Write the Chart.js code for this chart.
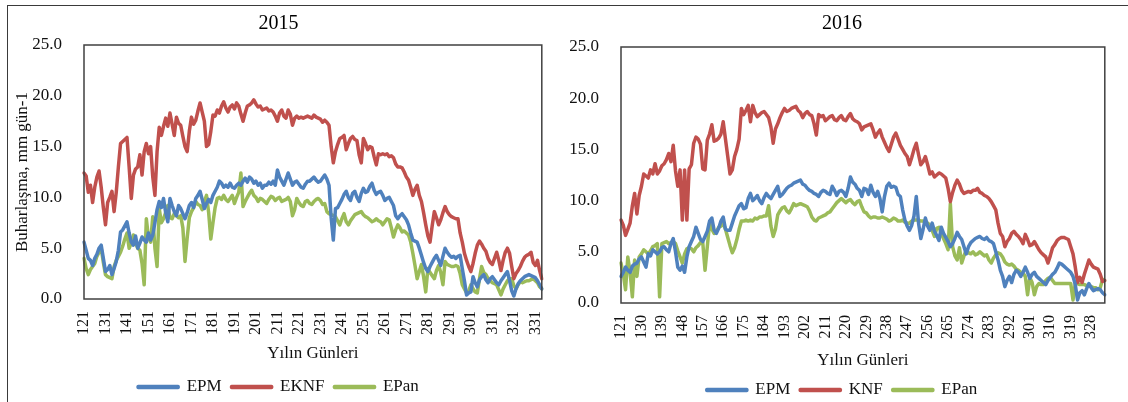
<!DOCTYPE html>
<html>
<head>
<meta charset="utf-8">
<script src="https://cdn.jsdelivr.net/npm/chart.js@4/dist/chart.umd.min.js"></script>
<style>
  body { margin: 0; width: 1128px; height: 402px; overflow: hidden; background: #fff; position: relative; }
  .frame { position: absolute; left: 7px; top: 5px; width: 1130px; height: 410px; border-left: 1px solid #3a3a3a; border-top: 1px solid #3a3a3a; }
  .box { position: absolute; top: 0; height: 410px; }
</style>
</head>
<body>
<div class="frame"></div>
<div class="box" style="left:8px;width:557px"><canvas id="chart-2015"></canvas></div>
<div class="box" style="left:566px;width:562px"><canvas id="chart-2016"></canvas></div>
<script>
// day of year, 121 .. 334
var firstDay = 121;
var lastDay = 334;

var eknf2015 = [
  12.4, 12.1, 10.5, 11.2, 9.5, 11.0, 12.0, 12.6, 11.0, 9.0,
  7.3, 9.5, 10.0, 10.6, 8.6, 10.5, 13.0, 15.3, 15.5, 15.7,
  15.9, 13.0, 9.9, 12.2, 12.8, 13.0, 14.2, 12.2, 14.5, 15.3,
  14.3, 15.0, 12.0, 10.2, 14.5, 16.9, 16.1, 17.0, 17.8, 17.0,
  18.3, 17.2, 16.1, 17.9, 17.3, 17.1, 16.0, 15.0, 14.5, 16.5,
  17.9, 17.2, 17.6, 18.5, 19.3, 18.4, 17.5, 15.0, 15.2, 16.5,
  18.1, 18.0, 18.6, 18.3, 19.0, 19.4, 18.8, 18.4, 18.9, 19.1,
  18.7, 19.3, 19.0, 18.2, 17.5, 18.3, 19.0, 19.1, 19.3, 19.6,
  19.2, 18.9, 19.0, 18.6, 18.7, 18.8, 18.5, 18.6, 18.4, 18.0,
  17.5, 18.3, 18.6, 18.0, 17.8, 18.6, 18.2, 17.1, 17.8, 18.0,
  17.8, 17.9, 17.8, 17.9, 18.0, 17.9, 17.8, 18.1, 17.9, 17.8,
  17.7, 17.4, 17.6, 17.4, 17.1, 15.0, 13.4, 14.5, 15.2, 15.8,
  15.9, 16.1, 14.7, 15.3, 15.8, 16.0, 15.7, 15.6, 14.2, 13.4,
  15.8, 15.3, 14.7, 15.0, 14.9, 14.0, 13.2, 14.3, 14.2, 14.3,
  14.2, 14.3, 14.0, 14.1, 13.9, 13.3, 13.0, 13.0, 12.9, 12.5,
  12.0, 11.7, 11.0, 10.2, 10.8, 11.2, 10.2, 9.6, 8.5, 7.3,
  6.2, 5.6, 7.2, 8.6, 8.0, 7.3, 7.8, 8.5, 9.1, 8.6,
  8.3, 8.1, 8.0, 7.9, 7.9, 6.5, 5.6, 4.5, 3.8, 3.2,
  2.7, 3.5, 4.5, 5.3, 5.7, 5.4, 5.0, 4.7, 4.0, 3.6,
  3.4, 4.0, 4.6, 3.8, 2.8, 3.8, 4.6, 5.0, 4.5, 3.2,
  2.0, 2.5, 2.8, 3.2, 3.7, 4.1, 4.3, 4.4, 4.6, 3.6,
  3.3, 3.8, 2.8, 2.0
];

var epm2015 = [
  5.6, 4.8, 4.0, 3.8, 3.3, 4.0, 4.4, 5.0, 5.3, 4.0,
  2.7, 2.9, 3.3, 2.4, 3.0, 3.7, 4.8, 6.6, 6.8, 7.2,
  7.6, 6.5, 5.6, 5.3, 6.2, 5.0, 5.5, 6.1, 5.8, 5.6,
  6.5, 5.8, 6.3, 7.5, 8.8, 9.6, 9.0, 9.9, 8.5, 7.6,
  9.9, 9.2, 8.6, 8.2, 9.2, 8.9, 8.4, 7.9, 8.5, 9.2,
  9.5, 9.0, 9.9, 10.2, 10.6, 9.8, 8.9, 9.4, 9.8, 9.5,
  10.2, 10.6, 11.0, 11.6, 11.4, 11.0, 11.2, 11.0, 11.4, 11.0,
  10.9, 11.2, 11.4, 11.2, 11.6, 11.9, 11.5, 12.0, 11.8, 11.4,
  11.6, 11.2, 11.4, 10.9, 11.2, 11.2, 11.5, 11.3, 11.6, 11.2,
  12.7, 12.0, 11.6, 11.2, 11.8, 12.4, 11.8, 11.2, 11.5, 11.6,
  11.3, 11.0, 10.9, 11.3, 11.6, 11.6, 11.8, 12.0, 11.7, 11.5,
  11.6, 11.9, 12.2, 11.8, 11.2, 8.0, 5.8, 8.9, 9.0, 9.4,
  9.8, 10.3, 10.6, 10.0, 9.7, 10.4, 10.6, 10.0, 9.6, 10.4,
  10.9, 10.5, 10.6, 11.1, 11.4, 10.7, 10.3, 10.5, 10.6, 10.2,
  9.7, 9.9, 10.0, 9.6, 9.2, 8.2, 7.9, 8.2, 8.4, 8.1,
  7.8, 7.3, 6.5, 5.8, 5.7, 5.6, 5.0, 4.3, 3.6, 3.0,
  2.7, 3.2, 3.6, 4.0, 4.3, 3.8, 3.3, 4.2, 5.0, 4.6,
  4.3, 4.1, 4.2, 4.0, 4.2, 4.3, 3.0, 1.8, 0.4, 0.6,
  0.7, 2.2, 1.6, 1.2, 1.9, 2.2, 2.4, 1.9, 1.6, 2.0,
  2.2, 1.9, 1.6, 1.4, 1.8, 2.1, 2.4, 2.7, 1.8, 0.8,
  0.3, 1.0, 1.5, 1.8, 2.0, 2.2, 2.3, 2.4, 2.3, 2.2,
  2.1, 1.8, 1.4, 1.0
];

var epan2015 = [
  4.0, 3.0, 2.4, 2.9, 3.2, 3.5, 4.2, 4.6, 5.0, 3.6,
  2.4, 2.2, 2.1, 2.0, 3.2, 3.8, 4.2, 4.6, 5.2, 5.9,
  6.5, 5.0, 5.5, 6.3, 5.5, 5.0, 4.8, 3.5, 1.4, 7.9,
  6.0, 5.6, 8.1, 5.0, 3.2, 8.9, 7.5, 7.9, 8.5, 9.2,
  8.0, 7.9, 8.4, 8.2, 8.0, 8.2, 7.0, 3.7, 6.0, 8.0,
  8.6, 9.0, 9.6, 9.3, 9.2, 8.8, 9.6, 10.2, 8.5, 5.9,
  7.5, 9.0, 9.9, 10.0, 9.8, 10.2, 9.8, 9.6, 9.9, 10.2,
  9.4, 10.0, 10.5, 12.4, 9.1, 9.6, 10.0, 10.4, 10.7, 10.2,
  10.0, 9.6, 9.9, 9.8, 9.6, 9.4, 9.8, 10.1, 10.0, 9.7,
  9.9, 10.0, 9.6, 9.7, 9.8, 10.0, 9.6, 8.2, 8.8, 9.9,
  9.5, 9.2, 9.1, 9.6, 9.7, 9.4, 9.3, 9.6, 9.8, 9.9,
  9.7, 9.3, 9.4, 8.6, 8.4, 8.3, 8.2, 8.1, 7.7, 7.3,
  7.9, 8.4, 7.6, 7.3, 7.7, 8.0, 8.3, 8.4, 8.5, 8.6,
  8.3, 8.1, 8.0, 7.8, 7.6, 7.7, 7.9, 7.7, 7.6, 7.3,
  7.6, 7.9, 7.8, 7.0, 6.1, 6.8, 7.3, 7.0, 6.6, 6.7,
  6.5, 6.3, 5.6, 4.5, 3.3, 2.0, 2.7, 3.4, 2.2, 0.7,
  3.0, 2.6, 2.3, 2.0, 2.8, 3.3, 2.6, 1.4, 3.7, 3.4,
  3.3, 3.2, 3.2, 3.3, 3.2, 2.5, 1.4, 1.0, 0.6, 0.8,
  1.4, 1.0, 0.7, 0.6, 2.0, 3.2, 2.6, 2.4, 2.0, 1.8,
  1.6, 1.5, 1.4, 0.9, 0.4, 1.0, 1.4, 1.8, 2.0, 2.0,
  1.3, 1.0, 1.4, 1.7, 1.6, 1.7, 1.8, 1.8, 1.9, 2.0,
  1.8, 1.6, 1.2, 1.0
];

var knf2016 = [
  8.1, 7.6, 6.6, 7.2, 7.8, 9.5, 10.7, 8.7, 10.5, 11.4,
  12.6, 12.4, 12.2, 13.0, 12.6, 13.6, 12.6, 12.9, 13.4, 13.6,
  14.0, 14.6, 13.8, 15.4, 12.9, 11.4, 13.0, 8.1, 13.0, 8.1,
  13.1, 13.5, 15.6, 16.2, 16.0, 15.5, 13.1, 13.0, 15.9, 16.5,
  17.4, 15.8, 15.9, 16.1, 16.5, 17.7, 16.0, 14.3, 12.6, 13.0,
  14.3, 15.0, 16.0, 19.0, 18.4, 18.8, 19.3, 17.7, 19.3, 18.6,
  18.2, 18.4, 18.6, 18.7, 18.4, 18.1, 17.2, 15.6, 17.0, 17.5,
  18.1, 18.6, 19.0, 18.7, 18.8, 19.0, 19.1, 19.2, 18.8, 18.6,
  18.1, 18.5, 18.7, 18.4, 18.3, 17.5, 16.4, 18.4, 18.2, 18.3,
  17.8, 18.0, 18.2, 18.3, 17.9, 17.8, 18.1, 18.3, 17.9, 17.8,
  18.2, 18.5, 18.0, 17.8, 17.7, 17.5, 16.9, 17.2, 17.3, 17.4,
  17.5, 16.9, 16.2, 16.6, 16.9, 16.2, 15.7, 15.2, 14.8, 15.5,
  16.2, 16.6, 16.0, 15.4, 15.0, 14.6, 14.3, 13.5, 14.2, 15.0,
  15.6, 14.5, 13.5, 13.8, 14.3, 13.5, 12.6, 12.8, 12.3, 12.5,
  12.7, 12.6, 12.4, 12.2, 11.2, 9.9, 10.8, 11.5, 12.0, 11.6,
  11.0, 10.7, 10.8, 10.9, 10.8, 11.0, 11.0, 11.2, 10.8, 10.7,
  10.5, 10.4, 10.2, 9.9, 9.5, 9.1, 7.8, 6.8, 6.5, 5.5,
  6.0, 6.3, 6.8, 7.0, 6.7, 6.5, 6.2, 5.8, 6.7, 6.2,
  5.6, 5.7, 6.0, 5.6, 5.2, 4.9, 4.7, 4.5, 3.9, 4.6,
  5.4, 5.7, 6.1, 6.3, 6.4, 6.4, 6.3, 6.2, 5.5, 4.8,
  3.5, 2.0, 2.5, 2.0, 2.8, 3.5, 4.2, 3.8, 3.5, 3.4,
  3.3, 2.8, 2.1, 2.2
];

var epm2016 = [
  2.6, 3.0, 3.5, 3.2, 3.0, 3.6, 3.8, 3.9, 4.3, 4.5,
  4.0, 3.5, 4.8, 4.6, 5.2, 5.0, 4.8, 5.0, 5.4, 5.5,
  5.2, 5.0, 5.8, 6.3, 5.0, 3.5, 3.2, 3.6, 3.0, 4.5,
  5.5, 6.0, 6.5, 7.4, 6.8, 6.2, 6.0, 6.5, 7.0, 8.0,
  8.3, 7.1, 6.8, 7.3, 8.0, 8.4, 7.2, 7.1, 7.1, 7.8,
  8.5, 9.0, 9.5, 9.7, 9.2, 9.3, 10.2, 10.7, 10.0, 10.2,
  10.5, 10.0, 9.7, 10.3, 10.7, 10.4, 10.2, 10.6, 11.0, 11.4,
  10.4, 10.6, 10.9, 11.2, 11.4, 11.5, 11.7, 11.8, 11.9, 12.0,
  11.6, 11.5, 11.2, 11.0, 10.9, 10.7, 10.6, 10.4, 10.8, 11.0,
  10.9, 10.7, 10.6, 11.4, 11.0, 10.5, 10.9, 11.0, 10.8, 10.4,
  11.2, 12.3, 11.8, 11.6, 11.2, 11.0, 10.4, 11.2, 11.1, 10.6,
  11.5, 10.8, 10.4, 10.9, 10.2, 8.9, 10.4, 11.4, 11.7, 11.3,
  11.4, 11.3, 10.6, 10.4, 9.1, 8.1, 7.5, 7.1, 7.6, 8.5,
  10.4, 7.8, 6.3, 7.2, 8.3, 7.5, 7.1, 7.8, 7.0, 6.6,
  6.1, 7.4, 6.8, 6.4, 6.0, 5.5, 5.8, 6.3, 6.9, 6.5,
  6.2, 5.5, 4.8, 5.5, 5.9, 6.1, 6.3, 6.4, 6.5, 6.3,
  6.2, 6.4, 6.1, 6.0, 5.8, 5.0, 4.2, 3.2, 2.6, 1.6,
  2.2, 2.6, 2.0, 2.8, 3.2, 3.0, 2.6, 3.0, 3.5, 3.0,
  2.4, 2.8, 3.0, 2.6, 2.4, 2.2, 2.0, 1.8, 2.2, 2.5,
  2.8, 3.0, 3.4, 3.9, 3.8, 3.6, 3.4, 3.2, 3.0, 2.6,
  1.8, 0.3, 1.0, 1.2, 0.8, 1.4, 1.9, 1.5, 1.2, 1.3,
  1.4, 1.3, 1.0, 0.8
];

var epan2016 = [
  3.9, 2.8, 1.3, 4.5, 3.0, 0.6, 4.2, 2.6, 4.5, 4.8,
  5.2, 5.0, 4.8, 5.1, 5.5, 5.6, 5.8, 0.6, 5.8, 5.9,
  6.0, 5.8, 5.9, 6.0, 5.8, 5.1, 4.5, 3.9, 4.8, 5.3,
  5.4, 5.3, 5.0, 5.4, 5.6, 5.9, 5.9, 3.2, 5.5, 7.8,
  7.2, 6.8, 7.0, 7.4, 7.5, 7.8, 7.2, 6.4, 5.6, 4.9,
  5.4, 6.2, 7.2, 8.0, 8.0, 8.1, 8.0, 8.1, 8.0, 8.3,
  8.2, 8.4, 8.4, 8.5, 8.5, 9.5, 7.5, 6.5, 7.2, 8.6,
  9.0, 9.3, 9.4, 9.0, 8.8, 9.2, 9.7, 9.5, 9.6, 9.7,
  9.6, 9.5, 9.4, 9.0, 8.4, 8.1, 8.0, 8.3, 8.4, 8.5,
  8.6, 8.8, 8.9, 9.2, 9.5, 9.8, 10.0, 10.2, 10.0, 9.8,
  10.0, 10.1, 9.8, 9.6, 9.9, 10.0, 9.4, 8.9, 8.8, 8.5,
  8.3, 8.4, 8.4, 8.3, 8.3, 8.4, 8.3, 8.2, 8.0, 8.1,
  8.3, 8.2, 8.0, 8.0, 8.1, 7.9, 7.8, 7.8, 8.0, 8.1,
  8.1, 8.1, 8.0, 8.0, 7.9, 7.8, 7.6, 7.1, 6.5, 7.3,
  7.4, 6.8, 6.3, 5.8, 5.2, 9.7, 5.5, 4.6, 4.2, 5.4,
  3.9, 4.6, 5.2, 4.9, 4.8, 5.0, 4.7, 4.8, 5.0, 4.8,
  4.6, 4.7, 4.2, 3.9, 4.4, 4.7, 4.9, 4.8, 4.5, 4.0,
  3.8, 3.7, 3.8, 3.6, 3.3, 3.2, 3.0, 2.9, 2.6, 0.8,
  2.5, 2.0, 0.8, 1.6, 1.9, 1.8, 1.8, 2.2, 2.4, 2.5,
  2.2, 1.9, 1.9, 1.9, 1.9, 1.9, 1.9, 1.9, 1.9, 0.3,
  1.9, 1.9, 1.8, 1.8, 1.8, 1.7, 1.7, 1.6, 1.5, 1.5,
  1.3, 1.5, 2.3, 2.2
];

var days = [];
for (var d = firstDay; d <= lastDay; d++) {
    days.push(String(d));
}

var serif = 'Liberation Serif';

// dark frame round the plot area
var plotBorder = {
    id: 'plotBorder',
    afterDatasetsDraw: function (chart) {
        var a = chart.chartArea;
        var ctx = chart.ctx;
        ctx.save();
        ctx.strokeStyle = '#404040';
        ctx.lineWidth = 1.5;
        ctx.strokeRect(a.left, a.top, a.right - a.left, a.bottom - a.top);
        ctx.restore();
    }
};

function lineSet(label, values, color) {
    return {
        label: label,
        data: values,
        borderColor: color,
        backgroundColor: color,
        borderWidth: 3.5,
        pointRadius: 0,
        tension: 0,
        borderJoinStyle: 'round',
        borderCapStyle: 'round'
    };
}

function makeChart(canvasId, title, datasets, tickStep, p) {
    var ctx = document.getElementById(canvasId).getContext('2d');
    return new Chart(ctx, {
        type: 'line',
        data: { labels: days, datasets: datasets },
        plugins: [plotBorder],
        options: {
            responsive: true,
            maintainAspectRatio: false,
            animation: false,
            layout: { padding: { left: 0, right: p.padRight, top: 0, bottom: p.padBottom } },
            plugins: {
                title: {
                    display: true,
                    text: title,
                    color: '#000',
                    font: { family: serif, size: 20, weight: 'normal' },
                    padding: { top: 12, bottom: p.titleGap }
                },
                legend: {
                    position: 'bottom',
                    labels: {
                        boxWidth: 40,
                        boxHeight: 1,
                        padding: 10,
                        color: '#111',
                        font: { family: serif, size: 17 }
                    }
                },
                tooltip: { enabled: false }
            },
            scales: {
                x: {
                    grid: { display: false },
                    border: { display: false },
                    ticks: {
                        autoSkip: false,
                        minRotation: 90,
                        maxRotation: 90,
                        padding: 4,
                        color: '#111',
                        font: { family: serif, size: 16 },
                        callback: function (val, idx) {
                            return idx % tickStep === 0 ? this.getLabelForValue(val) : '';
                        }
                    },
                    title: {
                        display: true,
                        text: 'Yılın Günleri',
                        color: '#111',
                        font: { family: serif, size: 17 },
                        padding: { top: 0, bottom: p.xTitlePad }
                    },
                    afterFit: function (scale) { scale.height = p.xHeight; }
                },
                y: {
                    min: 0,
                    max: 25,
                    grid: { display: false },
                    border: { display: false },
                    ticks: {
                        stepSize: 5,
                        padding: 14,
                        color: '#111',
                        font: { family: serif, size: 17 },
                        callback: function (v) { return v.toFixed(1); }
                    },
                    title: {
                        display: p.yTitle !== '',
                        text: p.yTitle,
                        color: '#111',
                        font: { family: serif, size: 17 },
                        padding: { top: 4, bottom: 0 }
                    },
                    afterFit: function (scale) { scale.width = p.yWidth; }
                }
            }
        }
    });
}

makeChart('chart-2015', '2015', [
    lineSet('EPM', epm2015, '#4F81BD'),
    lineSet('EKNF', eknf2015, '#C0504D'),
    lineSet('EPan', epan2015, '#9BBB59')
], 10, { padRight: 16, padBottom: 4.5, titleGap: 9, xHeight: 69.5, xTitlePad: 5, yWidth: 76, yTitle: 'Buharlaşma, mm gün-1' });

makeChart('chart-2016', '2016', [
    lineSet('EPM', epm2016, '#4F81BD'),
    lineSet('KNF', knf2016, '#C0504D'),
    lineSet('EPan', epan2016, '#9BBB59')
], 9, { padRight: 10, padBottom: 1.5, titleGap: 11, xHeight: 68.5, xTitlePad: 0.5, yWidth: 55, yTitle: '' });
</script>
</body>
</html>
